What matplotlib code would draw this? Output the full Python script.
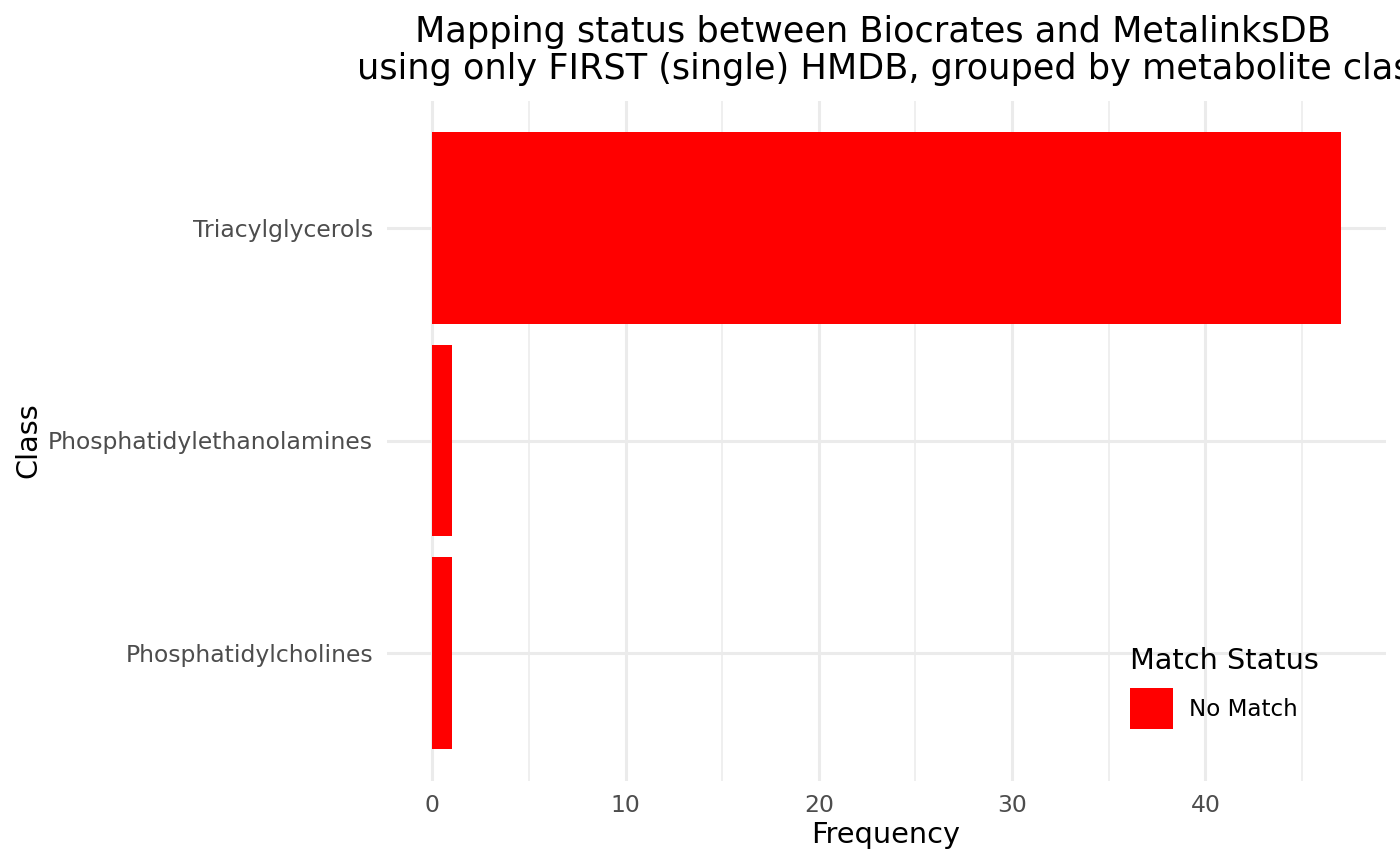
import matplotlib
matplotlib.use("Agg")
import matplotlib.pyplot as plt
from matplotlib.patches import Rectangle
from matplotlib.ticker import MultipleLocator

classes = ["Phosphatidylcholines", "Phosphatidylethanolamines", "Triacylglycerols"]
no_match = [1, 1, 47]
status_label = "No Match"
legend_title = "Match Status"
bar_color = "#FF0000"

W, H, DPI = 1400, 865, 100
fig = plt.figure(figsize=(W / DPI, H / DPI), dpi=DPI)
ax = fig.add_axes([387 / W, 1 - 780.5 / H, (1386 - 387) / W, (780.5 - 100.5) / H])

ypos = list(range(1, len(classes) + 1))
ax.barh(ypos, no_match, height=0.9, color=bar_color, zorder=3, label=status_label)

ax.set_xlim(-2.35, 49.35)
ax.set_ylim(0.4, 3.6)
ax.set_yticks(ypos)
ax.set_yticklabels(classes)
ax.xaxis.set_major_locator(MultipleLocator(10))
ax.xaxis.set_minor_locator(MultipleLocator(5))

for s in ax.spines.values():
    s.set_visible(False)
ax.grid(True, which="major", color="#EBEBEB", linewidth=2.2, zorder=0)
ax.grid(True, which="minor", axis="x", color="#EBEBEB", linewidth=1.1, zorder=0)
ax.tick_params(axis="both", which="both", length=0, labelsize=16.9, labelcolor="#4D4D4D")
ax.tick_params(axis="x", pad=10)
ax.tick_params(axis="y", pad=10)

fig.text(886 / W, 1 - 843 / H, "Frequency", ha="center", va="baseline", fontsize=20.7)
fig.text(28 / W, 1 - 440 / H, "Class", ha="center", va="center", rotation=90, fontsize=20.7)

fig.text(873 / W, 1 - 42 / H, "Mapping status between Biocrates and MetalinksDB",
         ha="center", va="baseline", fontsize=25.3)
fig.text(357 / W, 1 - 79 / H, "using only FIRST (single) HMDB, grouped by metabolite class",
         ha="left", va="baseline", fontsize=25.3)

# legend (drawn manually to match ggplot key size)
fig.text(1130 / W, 1 - 669 / H, legend_title, ha="left", va="baseline", fontsize=20.7)
fig.patches.append(Rectangle((1130 / W, 1 - 729 / H), 43 / W, 41 / H,
                             transform=fig.transFigure, facecolor=bar_color,
                             edgecolor="none", figure=fig))
fig.text(1189 / W, 1 - 709 / H, status_label, ha="left", va="center", fontsize=16.6)

fig.savefig("out.png", dpi=DPI, facecolor="white")
